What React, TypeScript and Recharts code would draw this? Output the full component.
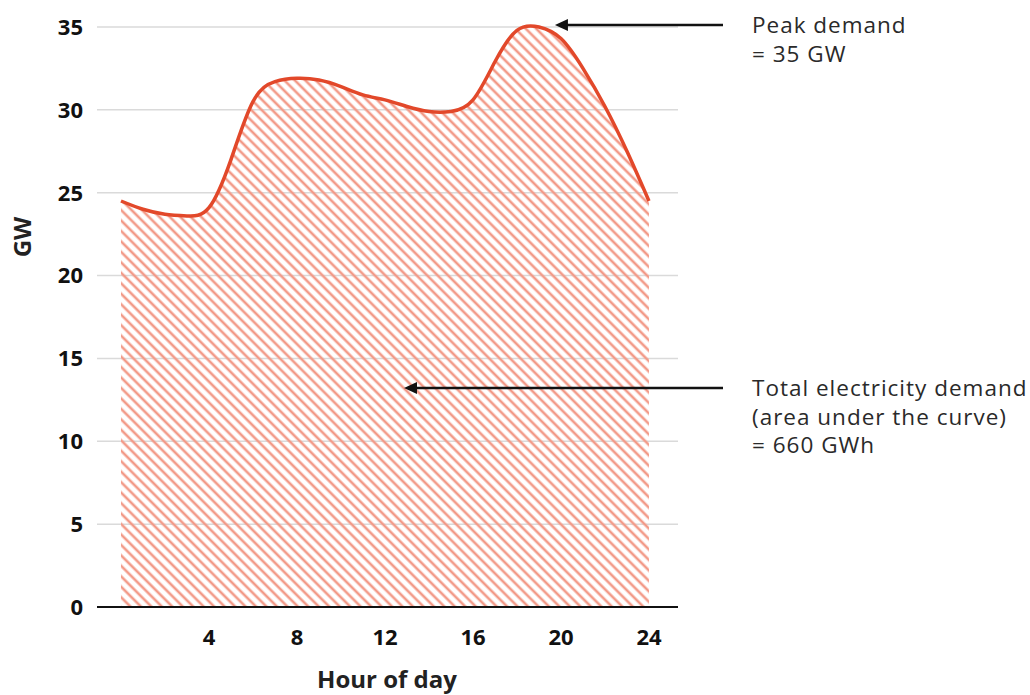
import React from "react";
import {
  Area,
  CartesianGrid,
  ComposedChart,
  XAxis,
  YAxis,
} from "recharts";

// Hourly system load over one day, GW
const hours = [
  0, 1, 2, 3, 4, 5, 6, 7, 8, 9, 10, 11, 12, 13, 14, 15, 16, 17, 18, 19, 20, 21,
  22, 23, 24,
];
const demandGW = [
  24.5, 24.0, 23.7, 23.6, 24.1, 27.0, 30.5, 31.7, 31.9, 31.8, 31.4, 30.9, 30.6,
  30.2, 29.9, 29.9, 30.6, 32.9, 34.8, 35.0, 34.3, 32.5, 30.2, 27.5, 24.5,
];
const xTicks = [4, 8, 12, 16, 20, 24];
const yTicks = [0, 5, 10, 15, 20, 25, 30, 35];

const peakNote = ["Peak demand", "= 35 GW"];
const totalNote = [
  "Total electricity demand",
  "(area under the curve)",
  "= 660 GWh",
];

const W = 1030;
const H = 695;
const PLOT_LEFT = 97;
const PLOT_RIGHT = 678;
const PLOT_TOP = 27;
const PLOT_BOTTOM = 607;
const X_DOMAIN: [number, number] = [-1.09, 25.32];
const Y_DOMAIN: [number, number] = [0, 35];

const LINE = "#e2482a";
const HATCH = "#f29a88";
const INK = "#111111";
const FONT = "'Open Sans', 'Noto Sans', sans-serif";

const data = hours.map((h, i) => ({ hour: h, gw: demandGW[i] }));

const sx = (h: number) =>
  PLOT_LEFT +
  ((h - X_DOMAIN[0]) / (X_DOMAIN[1] - X_DOMAIN[0])) * (PLOT_RIGHT - PLOT_LEFT);
const sy = (v: number) =>
  PLOT_BOTTOM -
  ((v - Y_DOMAIN[0]) / (Y_DOMAIN[1] - Y_DOMAIN[0])) * (PLOT_BOTTOM - PLOT_TOP);

const peakIdx = demandGW.indexOf(Math.max(...demandGW));

function Arrow({ x1, x2, y }: { x1: number; x2: number; y: number }) {
  // x2 is the tip, arrow points left
  return (
    <g>
      <line x1={x1} y1={y} x2={x2 + 10} y2={y} stroke={INK} strokeWidth={2.5} />
      <polygon
        points={`${x2},${y} ${x2 + 13},${y - 6} ${x2 + 13},${y + 6}`}
        fill={INK}
      />
    </g>
  );
}

const noteStyle = {
  fontSize: 22.5,
  letterSpacing: 1,
  fill: "#2a2a2a",
  fontFamily: FONT,
};

export default function App() {
  const peakX = sx(hours[peakIdx]) + 16;
  const peakY = sy(demandGW[peakIdx]) - 2;
  const totalY = 388;

  return (
    <div
      style={{
        position: "absolute",
        left: 0,
        top: 0,
        width: W,
        height: H,
        background: "#fff",
        fontFamily: FONT,
      }}
    >
      <ComposedChart
        width={W}
        height={H}
        data={data}
        margin={{ top: PLOT_TOP, right: W - PLOT_RIGHT, bottom: 0, left: 0 }}
      >
        <defs>
          <pattern
            id="hatch"
            patternUnits="userSpaceOnUse"
            width={7.4}
            height={7.4}
            patternTransform="rotate(-45)"
          >
            <line x1={3.7} y1={0} x2={3.7} y2={7.4} stroke={HATCH} strokeWidth={2.6} />
          </pattern>
        </defs>
        <CartesianGrid vertical={false} stroke="#dadada" strokeWidth={1.5} />
        <XAxis
          dataKey="hour"
          type="number"
          domain={X_DOMAIN}
          ticks={xTicks}
          allowDataOverflow
          height={H - PLOT_BOTTOM}
          tickLine={false}
          tickSize={0}
          tickMargin={22}
          axisLine={{ stroke: INK, strokeWidth: 2 }}
          tick={{ fill: INK, fontSize: 22, fontWeight: 700, fontFamily: FONT }}
        />
        <YAxis
          domain={Y_DOMAIN}
          ticks={yTicks}
          width={PLOT_LEFT}
          axisLine={false}
          tickLine={false}
          tickSize={0}
          tickMargin={14}
          tick={{ fill: INK, fontSize: 22, fontWeight: 700, fontFamily: FONT }}
        />
        <Area
          type="natural"
          dataKey="gw"
          stroke={LINE}
          strokeWidth={3.5}
          fill="url(#hatch)"
          fillOpacity={1}
          dot={false}
          activeDot={false}
          isAnimationActive={false}
        />
      </ComposedChart>

      <svg
        width={W}
        height={H}
        style={{ position: "absolute", left: 0, top: 0, pointerEvents: "none" }}
      >
        <text
          x={387}
          y={688}
          textAnchor="middle"
          fontSize={24}
          fontWeight={700}
          fill="#222"
          fontFamily={FONT}
        >
          Hour of day
        </text>
        <text
          transform="translate(31, 237) rotate(-90)"
          textAnchor="middle"
          fontSize={24}
          fontWeight={700}
          fill="#222"
          fontFamily={FONT}
        >
          GW
        </text>

        <Arrow x1={723} x2={peakX} y={peakY} />
        {peakNote.map((t, i) => (
          <text key={t} x={752} y={33 + i * 29} {...noteStyle}>
            {t}
          </text>
        ))}

        <Arrow x1={723} x2={404} y={totalY} />
        {totalNote.map((t, i) => (
          <text key={t} x={752} y={396 + i * 28.5} {...noteStyle}>
            {t}
          </text>
        ))}
      </svg>
    </div>
  );
}
